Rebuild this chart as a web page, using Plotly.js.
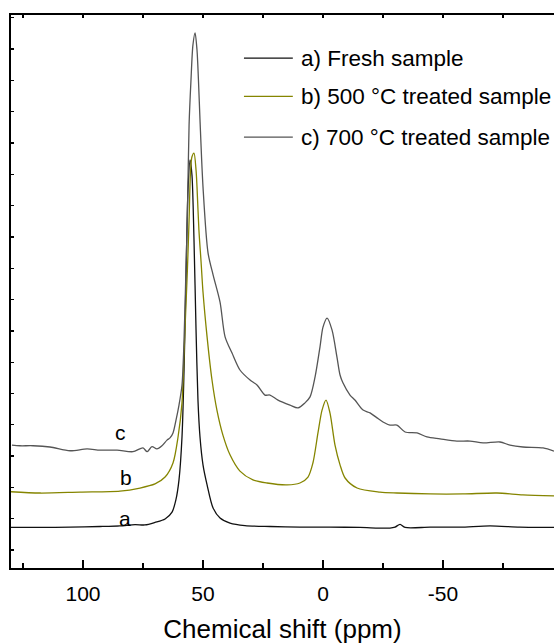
<!DOCTYPE html>
<html>
<head>
<meta charset="utf-8">
<script src="https://cdn.plot.ly/plotly-3.0.1.min.js"></script>
<style>html,body{margin:0;padding:0;background:#fff;}#chart{width:554px;height:644px;}</style>
</head>
<body>
<div id="chart"></div>
<script>
// Chemical shift (ppm)
const ppmA = [130, 117.9, 105.4, 92.9, 84.6, 78.3, 74.2, 70, 65.8, 62.9, 61.3, 60, 58.75, 57.9, 57.1, 56.25, 55.4, 54.6, 53.75, 52.9, 52.1, 51.25, 50, 48.3, 45.8, 42.9, 38.75, 32.5, 22, 9.6, -2.9, -15.4, -27.9, -30, -32.1, -34.2, -44.6, -57.1, -69.6, -82, -96.25];
const intA = [0.72, 0.72, 0.73, 0.75, 0.77, 0.81, 0.80, 0.88, 0.99, 1.21, 1.60, 2.24, 3.61, 5.75, 8.63, 11.5, 12.46, 11.98, 9.9, 7.03, 4.79, 3.61, 2.72, 2.08, 1.34, 1.02, 0.86, 0.78, 0.75, 0.73, 0.73, 0.72, 0.70, 0.73, 0.82, 0.72, 0.73, 0.73, 0.77, 0.73, 0.72];

const ppmB = [130, 117.9, 101.25, 84.6, 76.25, 70, 65.8, 62.5, 60.4, 58.75, 57.9, 57.1, 56.5, 55.8, 55.2, 54.6, 53.75, 52.9, 52.5, 51.7, 50.8, 50, 48.3, 46.25, 44.2, 41.7, 38.75, 34.6, 29.2, 23.3, 15, 9.6, 6.25, 4.2, 2.1, 0.4, -1.25, -2.9, -5, -7.1, -9.2, -14.2, -23.75, -30.8, -44.6, -58.3, -72.5, -83.3, -96.25];
const intB = [1.86, 1.82, 1.85, 1.88, 1.98, 2.11, 2.33, 2.78, 3.61, 4.70, 6.29, 7.83, 8.95, 10.54, 12.08, 12.56, 12.68, 12.14, 11.6, 10.22, 9.2, 8.24, 6.81, 5.43, 4.47, 3.67, 3.04, 2.52, 2.24, 2.14, 2.08, 2.14, 2.33, 2.78, 3.74, 4.47, 4.79, 4.38, 3.35, 2.72, 2.30, 1.98, 1.85, 1.82, 1.79, 1.79, 1.82, 1.76, 1.73];

const ppmC = [129.6, 126.25, 120.8, 113.75, 105.4, 98.3, 92.9, 85.8, 79.2, 75, 73.3, 71.25, 69.2, 67.1, 65, 63.75, 62.5, 61.25, 60, 58.75, 57.9, 57.1, 56.5, 55.8, 55, 54.2, 53.3, 52.5, 51.9, 51.25, 50, 47.9, 45.8, 42.9, 40.8, 37.9, 34.6, 30.4, 27.5, 24.2, 22.1, 18.75, 13.75, 10.4, 7.5, 5.4, 3.3, 1.25, 0, -1.7, -3.75, -5.8, -7.1, -8.3, -11.25, -13.3, -16.7, -19.6, -22.5, -25, -27.9, -30.8, -34.2, -39.2, -43.3, -48.75, -55.8, -61.25, -66.7, -73.75, -77.9, -83.3, -91.7, -96.25];
const intC = [3.35, 3.33, 3.33, 3.29, 3.17, 3.23, 3.19, 3.19, 3.14, 3.26, 3.14, 3.30, 3.23, 3.33, 3.51, 3.58, 3.74, 4.15, 4.63, 5.27, 6.71, 8.95, 10.7, 13.58, 15.02, 16.13, 16.52, 15.97, 15.02, 13.74, 11.6, 9.49, 8.79, 7.92, 6.81, 6.29, 5.75, 5.43, 5.27, 4.95, 4.95, 4.79, 4.63, 4.54, 4.70, 4.89, 5.53, 6.49, 7.12, 7.41, 7.03, 6.17, 5.59, 5.34, 4.95, 4.79, 4.47, 4.38, 4.22, 4.09, 3.99, 3.99, 3.77, 3.74, 3.61, 3.55, 3.48, 3.48, 3.42, 3.45, 3.35, 3.29, 3.26, 3.16];

const seriesNames = ["a) Fresh sample", "b) 500 °C treated sample", "c) 700 °C treated sample"];
const curveLabels = ["a", "b", "c"];
const labelPpm = [82.5, 82.1, 84.2];
const labelInt = [1.02, 2.33, 3.74];
const xTickVals = [100, 50, 0, -50];
const xTickText = ["100", "50", "0", "-50"];

const colors = ["#111111", "#858500", "#555555"];
const FONT = "Liberation Sans, Arial, Helvetica, sans-serif";

const xs = [ppmA, ppmB, ppmC];
const ys = [intA, intB, intC];
const traces = xs.map((x, i) => ({
  x: x, y: ys[i], type: "scatter", mode: "lines", name: seriesNames[i],
  line: {color: colors[i], width: 1.3, shape: "spline", smoothing: 0.8},
  showlegend: false, hoverinfo: "skip"
}));
traces.push({x: [], y: [], xaxis: "x2", yaxis: "y", type: "scatter", mode: "lines", showlegend: false});

// custom legend (paper coords)
const legY = [0.922, 0.853, 0.779];
const shapes = [];
const annotations = [];
seriesNames.forEach((n, i) => {
  shapes.push({type: "line", xref: "paper", yref: "paper", x0: 0.429, x1: 0.519, y0: legY[i], y1: legY[i],
    line: {color: colors[i], width: 1.3}});
  annotations.push({xref: "paper", yref: "paper", x: 0.530, y: legY[i], xanchor: "left", yanchor: "middle",
    text: n, showarrow: false, font: {family: FONT, size: 22.5, color: "#000"}});
});
curveLabels.forEach((t, i) => {
  annotations.push({xref: "x", yref: "y", x: labelPpm[i], y: labelInt[i], text: t, showarrow: false,
    xanchor: "center", yanchor: "middle", font: {family: FONT, size: 21, color: "#000"}});
});

const layout = {
  width: 554, height: 644,
  margin: {l: 11, r: 0, t: 15, b: 76},
  paper_bgcolor: "#fff", plot_bgcolor: "#fff",
  showlegend: false,
  font: {family: FONT, color: "#000"},
  xaxis: {
    range: [130, -96.25], tickmode: "array", tickvals: xTickVals, ticktext: xTickText,
    ticks: "inside", ticklen: 8, tickwidth: 1.3, tickcolor: "#000",
    minor: {tickmode: "linear", tick0: 0, dtick: 25, ticks: "inside", ticklen: 5, tickwidth: 1.3, tickcolor: "#000", showgrid: false},
    showline: true, linecolor: "#000", linewidth: 2, showgrid: false, zeroline: false,
    tickfont: {family: FONT, size: 21, color: "#000"}, ticklabelstandoff: 6,
    title: {text: "Chemical shift (ppm)", font: {family: FONT, size: 26, color: "#000"}, standoff: 16}
  },
  xaxis2: {
    overlaying: "x", matches: "x", side: "top", anchor: "y",
    tickmode: "linear", tick0: 0, dtick: 25, ticks: "inside", ticklen: 3, tickwidth: 1.2, tickcolor: "#000",
    showticklabels: false, showline: true, linecolor: "#000", linewidth: 2, showgrid: false, zeroline: false
  },
  yaxis: {
    range: [-0.575, 17.09], tickmode: "linear", tick0: 0, dtick: 1,
    ticks: "inside", ticklen: 3, tickwidth: 1.3, tickcolor: "#000",
    showticklabels: false, showline: true, linecolor: "#000", linewidth: 2, showgrid: false, zeroline: false
  },
  shapes: shapes,
  annotations: annotations
};

Plotly.newPlot("chart", traces, layout, {displayModeBar: false, staticPlot: true});
</script>
</body>
</html>
